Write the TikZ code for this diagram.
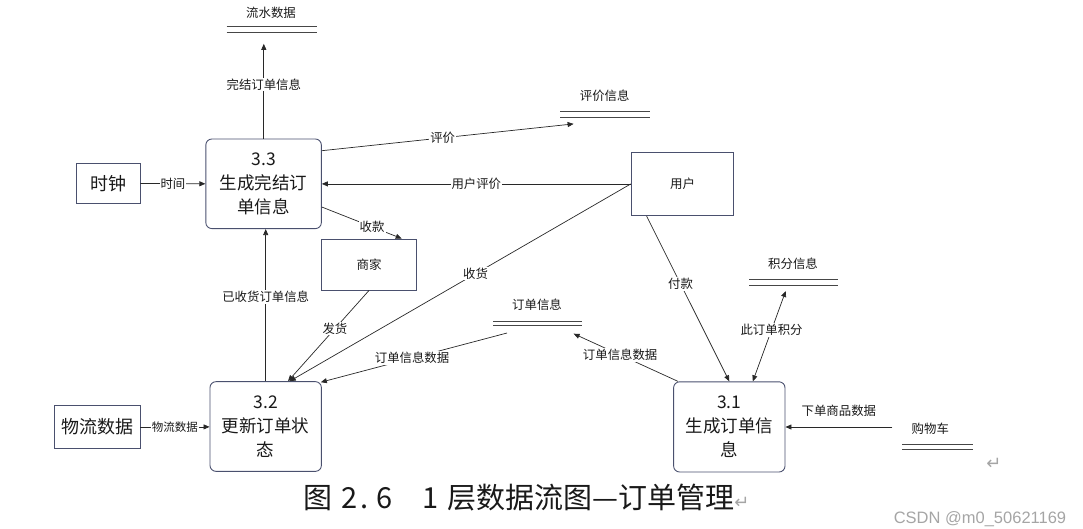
\documentclass[tikz,border=0pt]{standalone}
\usepackage{fontspec}
\setmainfont{Noto Sans CJK SC}
\newfontfamily\symfont{DejaVu Sans}
\newfontfamily\wmfont{Liberation Sans}
\usetikzlibrary{arrows.meta,calc}
\definecolor{boxc}{RGB}{74,80,110}
\definecolor{linec}{RGB}{40,40,40}
\definecolor{storec}{RGB}{70,70,70}
\definecolor{txtc}{RGB}{25,25,25}
\definecolor{wmc}{RGB}{165,165,165}
\begin{document}
\begin{tikzpicture}[x=1pt,y=-1pt,
  proc/.style={draw=boxc, line width=0.9pt, rounded corners=6pt, align=center,
    font=\fontsize{17.5}{24}\selectfont, inner sep=0pt, text=txtc},
  ent/.style={draw=boxc, line width=0.9pt, inner sep=0pt, text=txtc},
  entbig/.style={ent, font=\fontsize{18}{20}\selectfont},
  entsmall/.style={ent, font=\fontsize{12.5}{14}\selectfont},
  flow/.style={draw=linec, line width=0.7pt, -{Triangle[length=6pt,width=5pt]}},
  flowboth/.style={draw=linec, line width=0.7pt, {Triangle[length=6pt,width=5pt]}-{Triangle[length=6pt,width=5pt]}},
  lbl/.style={font=\fontsize{12.4}{14}\selectfont, fill=white, inner sep=1pt, text=txtc},
  storeline/.style={draw=storec, line width=1pt},
  storetxt/.style={font=\fontsize{12.4}{14}\selectfont, inner sep=0pt, text=txtc}]
\useasboundingbox (0,0) rectangle (1083,528);

% processes
\node[proc, minimum width=115.5pt, minimum height=89.6pt] (p33) at (263.6,183.8) {3.3\\生成完结订\\单信息};
\node[proc, minimum width=111.4pt, minimum height=89.7pt] (p32) at (265.7,426.5) {3.2\\更新订单状\\态};
\node[proc, minimum width=111.4pt, minimum height=90.2pt] (p31) at (729.3,426.9) {3.1\\生成订单信\\息};

% external entities
\node[entbig, minimum width=63.4pt, minimum height=40pt] (clk) at (108.3,183.4) {时钟};
\node[entbig, minimum width=85.5pt, minimum height=42.8pt] (wl) at (97.2,426.9) {物流数据};
\node[entsmall, minimum width=102.5pt, minimum height=63.4pt] (yh) at (682.5,183.9) {用户};
\node[entsmall, minimum width=95.2pt, minimum height=51pt] (sj) at (369,264.5) {商家};

% data stores
\node[storetxt] (lsT) at (271,12.8) {流水数据};
\draw[storeline] (226.6,26.6) -- (316.6,26.6) (226.6,32.8) -- (316.6,32.8);
\coordinate (lsA) at (263.8,43.8);

\node[storetxt] (pjT) at (604.7,95.8) {评价信息};
\draw[storeline] (560,111) -- (650,111) (560,117) -- (650,117);
\coordinate (pjA) at (573.6,123.9);

\node[storetxt] (ddT) at (537,304.8) {订单信息};
\draw[storeline] (493,321) -- (581.5,321) (493,325.7) -- (581.5,325.7);
\coordinate (ddL) at (507,333);
\coordinate (ddR) at (573.6,333.7);

\node[storetxt] (jfT) at (793,263.5) {积分信息};
\draw[storeline] (749.3,279) -- (838.3,279) (749.3,285) -- (838.3,285);
\coordinate (jfA) at (785.7,291);

\node[storetxt] (gwT) at (930.3,428.5) {购物车};
\draw[storeline] (902.3,444.4) -- (973.2,444.4) (902.3,449.6) -- (973.2,449.6);
\coordinate (gwA) at (892.3,427);

% flows
\draw[flow] (p33.north -| lsA) -- node[lbl,pos=0.57]{完结订单信息} (lsA);
\draw[flow] (clk.east) -- node[lbl]{时间} (p33.west);
\draw[flow] ([yshift=33.1pt]p33.east) -- node[lbl,pos=0.48]{评价} (pjA);
\draw[flow] (yh.west) -- node[lbl,pos=0.5]{用户评价} (yh.west -| p33.east);
\draw[flow] ([yshift=-23.2pt]p33.east) -- node[lbl,pos=0.63]{收款} ([xshift=32.7pt]sj.north);
\draw[flow] (yh.west) -- node[lbl,pos=0.455]{收货} ([xshift=24pt]p32.north);
\draw[flow] (sj.south) -- node[lbl,pos=0.42]{发货} ([xshift=22.3pt]p32.north);
\draw[flow] (p32.north) -- node[lbl,pos=0.554]{已收货订单信息} (p32.north |- p33.south);
\draw[flow] (ddL) -- node[lbl,pos=0.51]{订单信息数据} ([xshift=-1pt,yshift=-1pt]p32.north east);
\draw[flow] ([xshift=4.8pt]p31.north west) -- node[lbl,pos=0.554]{订单信息数据} (ddR);
\draw[flow] ([xshift=-35.9pt]yh.south) -- node[lbl,pos=0.41]{付款} (p31.north);
\draw[flowboth] ([xshift=23.5pt]p31.north) -- node[lbl,pos=0.57]{此订单积分} (jfA);
\draw[flow] (gwA) -- node[lbl,fill=none,yshift=15.8pt]{下单商品数据} (p31.east |- gwA);
\draw[flow] (wl.east) -- node[lbl,font=\fontsize{11.5}{13}\selectfont]{物流数据} (p32.west |- wl.east);

% caption and marks
\node[anchor=west, inner sep=0pt, font=\fontsize{29}{31}\selectfont, text=txtc] (cap) at (303,498)
  {图\hspace{9pt}2\hspace{3pt}.\hspace{8pt}6\hspace{30pt}1\hspace{9pt}层数据流图—订单管理{\color{wmc}\symfont\fontsize{18}{20}\selectfont ↵}};
\node[inner sep=0pt, text=wmc, font=\symfont\fontsize{18}{20}\selectfont] (ret) at (994,464) {↵};
\node[inner sep=0pt, text=wmc, font=\wmfont\fontsize{16.5}{18}\selectfont] (wm) at (980,519) {CSDN @m0\_50621169};
\end{tikzpicture}
\end{document}
